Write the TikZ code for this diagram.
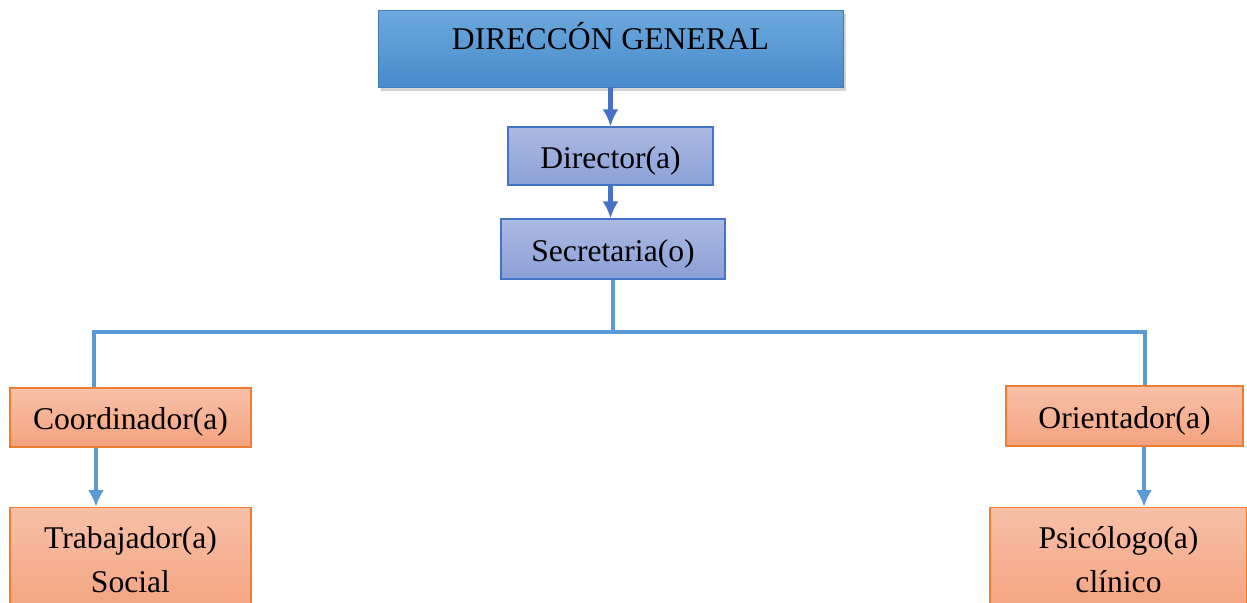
\documentclass[tikz,border=0pt]{standalone}
\usepackage{fontspec}
\setmainfont{Liberation Serif}
\usetikzlibrary{shadows,arrows.meta}
\definecolor{dgtop}{HTML}{6DA8DE}
\definecolor{dgbot}{HTML}{478BCB}
\definecolor{lavtop}{HTML}{ABBAE2}
\definecolor{lavbot}{HTML}{8BA0D7}
\definecolor{navy}{HTML}{4472C4}
\definecolor{sky}{HTML}{5B9BD5}
\definecolor{ortop}{HTML}{F7C0A8}
\definecolor{orbot}{HTML}{F4A37F}
\definecolor{orline}{HTML}{ED7D31}
\tikzset{
  >={Latex[length=.34cm,width=.32cm]},
}
\tikzstyle{every node}=[font=\fontsize{18}{25}\selectfont]
\tikzstyle{dgbox}=[fill=dgtop, top color=dgtop, bottom color=dgbot, draw=dgbot!90!black, line width=.4pt,
  drop shadow={opacity=.35, shadow xshift=1.5pt, shadow yshift=-2pt}]
\tikzstyle{lavbox}=[top color=lavtop, bottom color=lavbot, draw=navy, line width=.7pt, inner sep=0pt,
  text height=.6cm, text depth=.12cm]
\tikzstyle{orbox}=[top color=ortop, bottom color=orbot, draw=orline, line width=.7pt, inner sep=0pt]
\tikzstyle{onerow}=[text height=.6cm, text depth=.12cm]
\tikzstyle{link}=[line width=2.3pt]

\begin{document}
\begin{tikzpicture}[x=0.02cm,y=-0.02cm]
    \useasboundingbox (0,0) rectangle (1247,602);
    \clip (0,0) rectangle (1247,602);
    % top part
    \node[dgbox, minimum width=9.3cm, inner sep=0pt, text height=.78cm, text depth=.76cm] (dg) at (610.5,48.5) {DIRECCÓN GENERAL};
    \node[lavbox, minimum width=4.1cm, minimum height=1.16cm] (dir) at (610.5,156) {Director(a)};
    \node[lavbox, minimum width=4.48cm, minimum height=1.2cm] (sec) at (613,249) {Secretaria(o)};
    \begin{scope}[link,navy,->]
      \draw (dg.south) -- (dir.north);
      \draw (dir.south) -- (dir.south |- sec.north);
    \end{scope}
    % second level
    \node[orbox, onerow, minimum width=4.82cm, minimum height=1.18cm] (coord) at (130.5,417.5) {Coordinador(a)};
    \node[orbox, onerow, minimum width=4.74cm, minimum height=1.2cm] (orient) at (1124.5,416) {Orientador(a)};
    \node[orbox, minimum width=4.82cm, anchor=north, inner ysep=.38cm, align=center] (trab) at (130.5,507) {Trabajador(a)\\Social};
    \node[orbox, minimum width=5.14cm, anchor=north, inner ysep=.38cm, align=center] (psic) at (1118.5,507) {Psicólogo(a)\\clínico};
    \coordinate (busL) at (94,332);
    \coordinate (busR) at (1145,332);
    \begin{scope}[link,sky]
      \draw (sec.south) -- (sec.south |- busL);
      \draw (coord.north -| busL) -- (busL) -- (busR) -- (orient.north -| busR);
      \draw[->] (coord.south -| 96,0) -- (trab.north -| 96,0);
      \draw[->] (orient.south -| 1144,0) -- (psic.north -| 1144,0);
    \end{scope}
\end{tikzpicture}
\end{document}
